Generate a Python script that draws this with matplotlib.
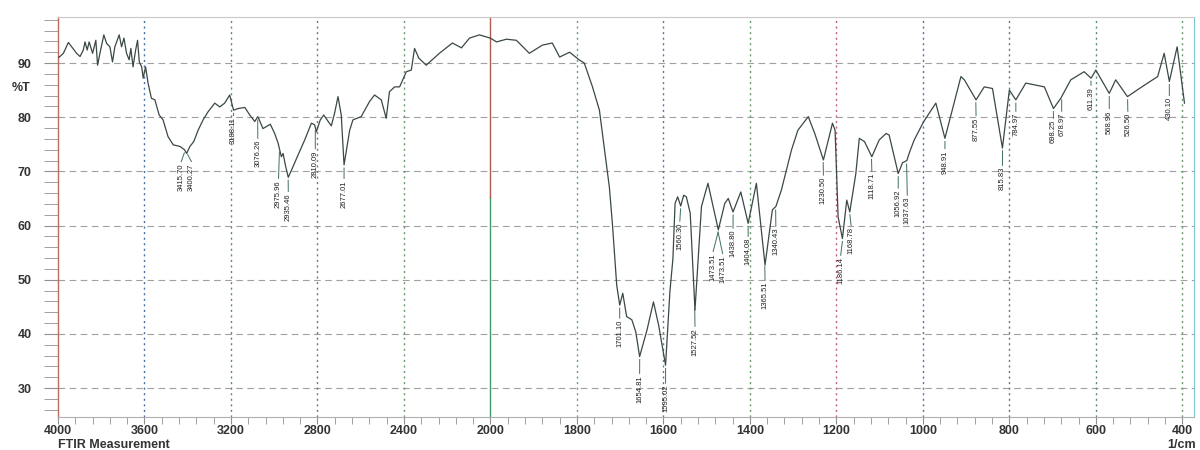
import numpy as np
import matplotlib.pyplot as plt

# spectrum (wavenumber in 1/cm, %T)
wavenumber = [4000, 3991, 3975, 3952, 3937, 3914, 3898, 3883, 3875, 3865, 3856, 3840, 3825, 3817,
              3806, 3788, 3775, 3760, 3748, 3737, 3726, 3717, 3706, 3695, 3683, 3671, 3663, 3653,
              3641, 3632, 3624, 3613, 3606, 3595, 3583, 3568, 3552, 3532, 3514, 3491, 3467, 3436,
              3415, 3405, 3390, 3372, 3352, 3329, 3306, 3275, 3252, 3229, 3206, 3188, 3167, 3136,
              3113, 3090, 3076, 3070, 3052, 3018, 2998, 2982, 2967, 2959, 2947, 2935, 2916, 2890,
              2859, 2828, 2813, 2805, 2787, 2771, 2736, 2721, 2705, 2690, 2677, 2651, 2636, 2598,
              2559, 2536, 2505, 2482, 2467, 2443, 2420, 2389, 2366, 2351, 2331, 2297, 2236, 2176,
              2134, 2097, 2051, 2000, 1986, 1963, 1940, 1910, 1880, 1857, 1840, 1817, 1795, 1783,
              1764, 1748, 1737, 1725, 1718, 1708, 1701, 1694, 1685, 1673, 1664, 1655, 1638, 1623,
              1611, 1595, 1585, 1578, 1573, 1567, 1560, 1553, 1547, 1538, 1527, 1512, 1497, 1473,
              1458, 1450, 1439, 1421, 1404, 1385, 1365, 1348, 1340, 1327, 1304, 1289, 1265, 1250,
              1230, 1209, 1203, 1196, 1186, 1176, 1169, 1155, 1147, 1135, 1118, 1101, 1085, 1078,
              1057, 1047, 1037, 1031, 1020, 998, 970, 949, 912, 904, 877, 858, 839, 816, 800, 785,
              762, 719, 698, 681, 658, 627, 611, 600, 569, 554, 527, 488, 457, 442, 430, 412, 400, 395]
transmittance = [91.0, 91.2, 91.8, 93.8, 93.0, 91.8, 91.2, 92.4, 93.9, 92.4, 93.9, 91.8, 94.2, 89.6,
                 91.8, 95.2, 93.6, 93.0, 90.2, 93.0, 94.2, 95.2, 93.0, 94.6, 91.8, 90.6, 92.7, 89.3,
                 92.4, 94.2, 90.2, 89.3, 87.2, 89.3, 86.2, 83.5, 83.2, 80.4, 79.5, 76.4, 74.9, 74.6,
                 74.0, 73.3, 74.6, 75.5, 77.6, 79.5, 81.0, 82.6, 81.9, 82.6, 84.1, 81.3, 81.6, 81.8,
                 80.4, 79.2, 80.1, 79.6, 77.9, 78.7, 77.0, 75.2, 72.7, 73.3, 70.9, 68.9, 70.6, 73.0,
                 75.8, 78.9, 78.6, 77.3, 79.5, 80.4, 78.4, 80.7, 83.8, 80.4, 71.2, 77.6, 79.5, 80.1,
                 82.9, 84.1, 83.2, 79.8, 84.7, 85.6, 85.6, 88.4, 88.7, 92.7, 90.9, 89.6, 91.8, 93.7,
                 92.8, 94.6, 95.2, 94.6, 93.9, 94.4, 94.2, 91.8, 93.3, 93.7, 91.1, 92.0, 90.6, 90.0,
                 85.6, 81.3, 74.5, 67.1, 60.4, 49.0, 45.3, 47.5, 43.2, 42.6, 40.4, 35.8, 40.7, 45.9,
                 41.6, 34.2, 47.8, 53.9, 64.1, 65.3, 63.6, 65.6, 65.3, 62.3, 44.4, 63.5, 67.8, 59.2,
                 64.1, 65.0, 62.5, 66.2, 60.4, 67.8, 52.7, 62.9, 63.5, 66.6, 73.9, 77.6, 80.1, 77.0,
                 72.1, 78.9, 77.6, 61.6, 57.6, 64.7, 62.5, 69.6, 76.1, 75.5, 72.7, 75.8, 77.0, 76.7,
                 69.6, 71.6, 72.0, 73.5, 75.8, 79.2, 82.6, 76.1, 87.5, 86.9, 83.2, 85.6, 85.3, 74.3,
                 85.0, 83.2, 86.3, 85.6, 81.6, 83.5, 86.9, 88.4, 87.2, 88.7, 84.4, 86.9, 83.8, 85.9,
                 87.5, 91.8, 86.6, 93.0, 85.6, 82.6]

peak_labels = ['3415.70', '3400.27', '3188.11', '3076.26', '2975.96', '2935.46', '2810.09', '2677.01',
               '1701.10', '1654.81', '1595.02', '1560.30', '1527.52', '1473.51', '1473.51', '1438.80',
               '1404.08', '1365.51', '1340.43', '1230.50', '1186.14', '1168.78', '1118.71', '1056.92',
               '1037.63', '948.91', '877.55', '815.83', '784.97', '698.25', '678.97', '611.39',
               '568.96', '526.50', '430.10']
peak_wn = [3415.70, 3400.27, 3188.11, 3076.26, 2975.96, 2935.46, 2810.09, 2677.01,
           1701.10, 1654.81, 1595.02, 1560.30, 1527.52, 1473.51, 1473.51, 1438.80,
           1404.08, 1365.51, 1340.43, 1230.50, 1186.14, 1168.78, 1118.71, 1056.92,
           1037.63, 948.91, 877.55, 815.83, 784.97, 698.25, 678.97, 611.39,
           568.96, 526.50, 430.10]
# where each rotated label sits (x in 1/cm, top of text in %T)
label_x = [3430, 3383, 3188, 3076, 2980, 2935, 2810, 2677,
           1701, 1655, 1595, 1562, 1527, 1485, 1463, 1439,
           1404, 1365, 1340, 1230, 1190, 1166, 1118, 1057,
           1036, 949, 877, 816, 785, 698, 679, 611,
           569, 526, 430]
label_top = [71.5, 71.5, 80.0, 75.8, 68.4, 66.0, 73.9, 68.4,
             42.6, 32.4, 30.6, 60.5, 41.1, 54.9, 54.5, 59.2,
             57.7, 49.6, 59.7, 69.0, 54.2, 59.7, 69.7, 66.6,
             65.3, 73.9, 80.0, 70.8, 80.8, 79.5, 80.8, 85.6,
             81.3, 80.8, 83.7]

x_major = [4000, 3600, 3200, 2800, 2400, 2000, 1800, 1600, 1400, 1200, 1000, 800, 600, 400]
y_major = [30, 40, 50, 60, 70, 80, 90]


# FTIR double scale: 4000-2000 compressed by two
def fwd(x):
    x = np.asarray(x, dtype=float)
    return np.where(x > 2000, 2000 + (x - 2000) / 2, x)


def inv(t):
    t = np.asarray(t, dtype=float)
    return np.where(t > 2000, 2000 + (t - 2000) * 2, t)


plt.rcParams['font.family'] = 'Liberation Sans'

fig = plt.figure(figsize=(12, 4.5), dpi=100)
ax = fig.add_axes([58 / 1200, 1 - 417 / 450, (1194 - 58) / 1200, 400 / 450])
ax.set_xscale('function', functions=(fwd, inv))
ax.set_xlim(4000, 373)
ax.set_ylim(24.65, 98.5)

# grid
for y in y_major:
    ax.axhline(y, color='#a0a0a0', lw=0.8, ls=(0, (6, 4)), zorder=1)
vcolors = ['#4a6fa5', '#5a8a7a', '#8a6a7a', '#6a9a6a', None, '#6a9a8a', '#5a7a9a',
           '#6a9a6a', '#c06070', '#5a6fa5', '#5a7a8a', '#5a8a7a', '#6a9a6a']
for x, c in zip(x_major[1:], vcolors):
    if x == 2000:
        ax.axvline(x, ymin=0, ymax=0.55, color='#3a9a6a', lw=1.0, zorder=1)
        ax.axvline(x, ymin=0.55, ymax=1, color='#b05a50', lw=1.0, zorder=1)
    else:
        ax.axvline(x, color=c, lw=1.0, ls=(0, (1.5, 2.5)), zorder=1)

ax.plot(wavenumber, transmittance, color='#3a4846', lw=0.9, zorder=3)

# peak labels with leader lines
for lab, pw, lx, lt in zip(peak_labels, peak_wn, label_x, label_top):
    yc = np.interp(pw, wavenumber[::-1], transmittance[::-1])
    ax.plot([pw, lx], [yc - 0.6, lt + 0.3], color='#3f6f60', lw=0.7, zorder=2)
    ax.text(lx, lt, lab, rotation=90, ha='center', va='top', fontsize=5.5,
            color='#202020', zorder=4)

ax.set_xticks(x_major)
ax.set_xticklabels([str(v) for v in x_major])
minor = list(np.arange(4000, 2000, -80)) + list(np.arange(2000, 360, -40))
ax.set_xticks(minor, minor=True)
ax.set_yticks(y_major)
ax.set_yticks(np.arange(26, 99, 2), minor=True)

ax.tick_params(axis='x', which='both', direction='out', length=5, color='#909090',
               labelsize=9, pad=1)
ax.tick_params(axis='y', which='both', direction='out', length=10, color='#909090',
               labelsize=9, pad=9)
for t in ax.get_xticklabels() + ax.get_yticklabels():
    t.set_fontweight('bold')
    t.set_color('#333333')

ax.spines['top'].set_color('#c8c8c8')
ax.spines['top'].set_linewidth(0.8)
ax.spines['right'].set_color('#80c8d0')
ax.spines['right'].set_linewidth(0.8)
ax.spines['left'].set_color('#c06a60')
ax.spines['left'].set_linewidth(1.0)
ax.spines['bottom'].set_color('#b0b0b0')
ax.spines['bottom'].set_linewidth(0.8)

fig.text(12 / 1200, 1 - 88 / 450, '%T', fontsize=9, fontweight='bold', color='#333333',
         ha='left', va='center')
fig.text(58 / 1200, 1 - 448 / 450, 'FTIR Measurement', fontsize=9, fontweight='bold',
         color='#333333', ha='left', va='baseline')
fig.text(1196 / 1200, 1 - 448 / 450, '1/cm', fontsize=9, fontweight='bold',
         color='#333333', ha='right', va='baseline')

plt.savefig('out.png', dpi=100)
